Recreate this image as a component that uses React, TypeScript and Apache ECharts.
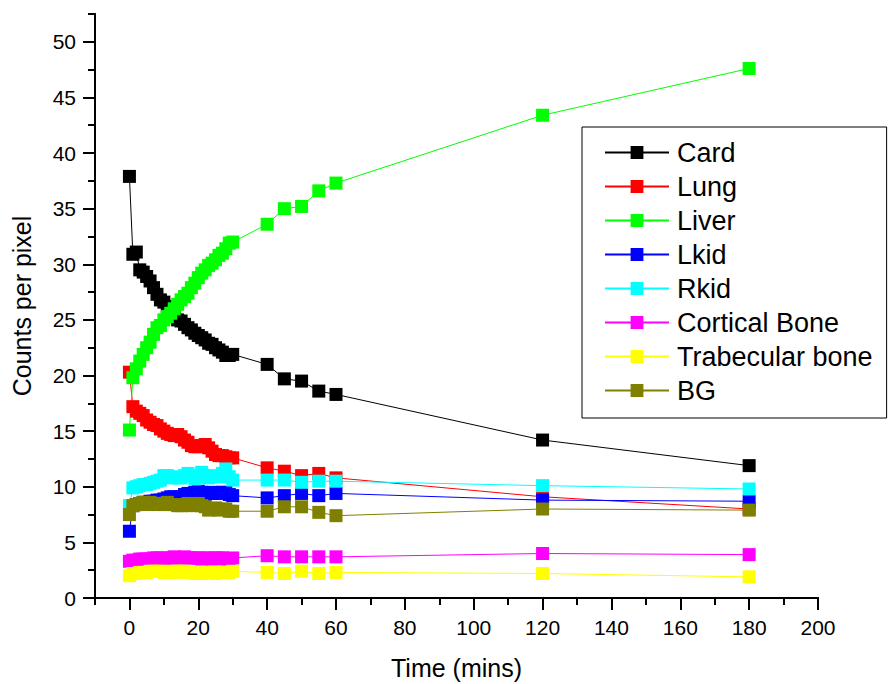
import React, { useEffect, useRef } from "react";
import * as echarts from "echarts";

const times = [0,1,2,3,4,5,6,7,8,9,10,11,12,13,14,15,16,17,18,19,20,21,22,23,24,25,26,27,28,29,30,40,45,50,55,60,120,180];

const card = [37.9,30.9,31.1,29.5,29.3,28.9,28.5,27.9,27.3,26.8,26.6,26.2,25.8,25.3,25.0,24.9,24.6,24.3,24.1,23.8,23.6,23.4,23.2,22.9,22.8,22.5,22.3,22.1,21.8,21.8,21.9,21.0,19.7,19.5,18.6,18.3,14.2,11.9];
const lung = [20.3,17.2,16.8,16.6,16.4,16.0,15.8,15.6,15.5,15.2,15.0,14.8,14.7,14.6,14.7,14.5,14.2,14.0,13.7,13.6,13.6,13.7,13.8,13.5,13.2,12.9,12.8,12.8,12.7,12.6,12.6,11.7,11.4,11.0,11.2,10.8,9.1,8.0];
const liver = [15.1,19.8,20.6,21.3,21.9,22.5,23.0,23.7,24.3,24.5,25.0,25.3,25.6,26.0,26.4,26.8,27.1,27.4,27.9,28.3,28.8,29.2,29.5,29.9,30.1,30.4,30.8,31.0,31.4,31.9,32.0,33.6,35.0,35.2,36.6,37.3,43.4,47.6];
const lkid = [6.0,8.3,8.4,8.5,8.6,8.6,8.7,8.7,8.8,8.8,8.9,9.0,9.1,9.1,9.0,9.1,9.3,9.4,9.4,9.5,9.6,9.5,9.3,9.4,9.5,9.4,9.4,9.5,9.5,9.3,9.2,9.0,9.2,9.4,9.2,9.4,8.8,8.7];
const rkid = [8.3,9.9,10.0,10.1,10.2,10.2,10.3,10.4,10.5,10.6,11.0,11.0,10.8,10.9,10.8,10.8,11.0,11.2,11.0,10.7,10.9,11.3,11.0,10.8,10.9,11.0,10.9,11.2,11.6,10.9,10.6,10.6,10.6,10.4,10.5,10.5,10.1,9.8];
const corticalBone = [3.3,3.4,3.4,3.5,3.5,3.5,3.5,3.6,3.6,3.6,3.5,3.6,3.6,3.7,3.6,3.6,3.7,3.6,3.6,3.6,3.6,3.5,3.6,3.6,3.5,3.6,3.6,3.6,3.5,3.5,3.6,3.8,3.7,3.7,3.7,3.7,4.0,3.9];
const trabecularBone = [2.0,2.2,2.2,2.3,2.3,2.3,2.4,2.4,2.4,2.4,2.3,2.3,2.4,2.3,2.4,2.4,2.4,2.3,2.3,2.2,2.2,2.2,2.3,2.3,2.3,2.2,2.3,2.3,2.3,2.3,2.4,2.3,2.2,2.4,2.2,2.3,2.2,1.9];
const bg = [7.5,8.3,8.4,8.5,8.6,8.4,8.6,8.5,8.4,8.5,8.4,8.6,8.4,8.4,8.3,8.3,8.4,8.5,8.3,8.4,8.5,8.3,8.2,7.9,8.0,8.1,7.9,8.0,8.0,7.8,7.8,7.8,8.2,8.2,7.7,7.4,8.0,7.9];

const seriesNames = ["Card","Lung","Liver","Lkid","Rkid","Cortical Bone","Trabecular bone","BG"];
const seriesValues = [card, lung, liver, lkid, rkid, corticalBone, trabecularBone, bg];
const seriesColors = ["#000000","#ff0000","#00ff00","#0000ff","#00ffff","#ff00ff","#ffff00","#808000"];

const xMajorTicks = [0,20,40,60,80,100,120,140,160,180,200];
const yMajorTicks = [0,5,10,15,20,25,30,35,40,45,50];

const FONT = "'Liberation Sans', Arial, Helvetica, sans-serif";

export default function App() {
  const ref = useRef<HTMLDivElement>(null);
  useEffect(() => {
    document.body.style.margin = "0";
    if (!ref.current) return;
    const chart = echarts.init(ref.current, null, { renderer: "svg" });
    const axisLine = { show: true, onZero: false, lineStyle: { color: "#000", width: 2 } };
    chart.setOption({
      animation: false,
      backgroundColor: "#fff",
      textStyle: { fontFamily: FONT },
      grid: { left: 95, right: 70, top: 14, bottom: 86, containLabel: false, outerBoundsMode: "none" },
      legend: {
        orient: "vertical",
        left: 582,
        top: 127,
        data: seriesNames,
        itemWidth: 64,
        itemHeight: 16,
        itemGap: 7,
        padding: [12, 14, 14, 22],
        borderColor: "#000",
        borderWidth: 1,
        backgroundColor: "#fff",
        textStyle: { fontSize: 27, lineHeight: 27, color: "#000", fontFamily: FONT, padding: [0, 0, 0, 3] },
      },
      xAxis: [
        {
          type: "value",
          min: -10,
          max: 200,
          interval: 10,
          name: "Time (mins)",
          nameLocation: "middle",
          nameGap: 57,
          nameTextStyle: { fontSize: 25, color: "#000", fontFamily: FONT },
          axisLine,
          axisTick: { show: true, inside: false, length: 7, lineStyle: { color: "#000", width: 2 } },
          axisLabel: {
            fontSize: 21,
            color: "#000",
            margin: 19,
            fontFamily: FONT,
            formatter: (v: number) => (v % 20 === 0 && v >= 0 ? String(v) : ""),
          },
          splitLine: { show: false },
        },
        {
          type: "value",
          min: -10,
          max: 200,
          position: "bottom",
          offset: 0,
          axisLine,
          axisTick: { show: true, inside: false, length: 12, customValues: xMajorTicks, lineStyle: { color: "#000", width: 2 } },
          axisLabel: { show: false },
          splitLine: { show: false },
        },
      ],
      yAxis: [
        {
          type: "value",
          min: 0,
          max: 52.5,
          interval: 2.5,
          name: "Counts per pixel",
          nameLocation: "middle",
          nameGap: 61,
          nameTextStyle: { fontSize: 25, color: "#000", fontFamily: FONT },
          axisLine,
          axisTick: { show: true, inside: false, length: 7, lineStyle: { color: "#000", width: 2 } },
          axisLabel: {
            fontSize: 21,
            color: "#000",
            margin: 19,
            fontFamily: FONT,
            formatter: (v: number) => (v % 5 === 0 ? String(v) : ""),
          },
          splitLine: { show: false },
        },
        {
          type: "value",
          min: 0,
          max: 52.5,
          position: "left",
          offset: 0,
          axisLine,
          axisTick: { show: true, inside: false, length: 12, customValues: yMajorTicks, lineStyle: { color: "#000", width: 2 } },
          axisLabel: { show: false },
          splitLine: { show: false },
        },
      ],
      series: seriesNames.map((name, i) => ({
        name,
        type: "line",
        xAxisIndex: 0,
        yAxisIndex: 0,
        data: times.map((t, j) => [t, seriesValues[i][j]]),
        symbol: "rect",
        symbolSize: 13,
        showSymbol: true,
        color: seriesColors[i],
        itemStyle: { color: seriesColors[i] },
        lineStyle: { color: seriesColors[i], width: 1 },
      })),
    });
    return () => chart.dispose();
  }, []);
  return <div ref={ref} style={{ width: 888, height: 684 }} />;
}
